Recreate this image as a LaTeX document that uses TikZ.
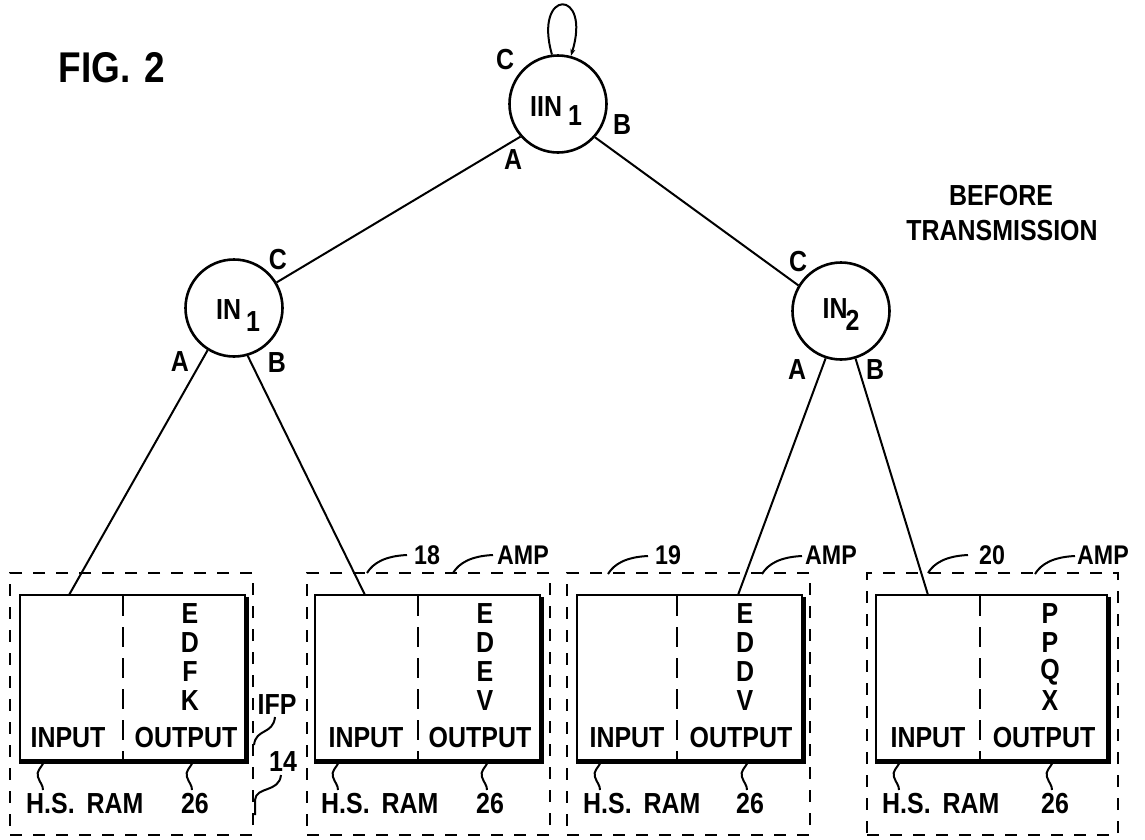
\documentclass[tikz,border=0pt]{standalone}
\usepackage{fontspec}
\setmainfont[FakeStretch=0.86]{Liberation Sans}
\usetikzlibrary{arrows.meta}
\begin{document}
\begin{tikzpicture}[x=1pt,y=-1pt,
  txt/.style={font=\fontsize{29}{29}\selectfont\bfseries, inner sep=0pt},
  smalltxt/.style={font=\fontsize{27}{27}\selectfont\bfseries, inner sep=0pt},
  titletxt/.style={font=\fontsize{43}{43}\selectfont\bfseries, inner sep=0pt},
  circ/.style={circle, draw, line width=2.6pt, minimum size=97pt, inner sep=0pt},
  conn/.style={line width=2pt},
  outerbox/.style={draw, line width=2.8pt, dash pattern=on 12pt off 11pt, minimum height=262pt, inner sep=0pt},
  rambox/.style={draw, line width=2.2pt, minimum height=165pt, inner sep=0pt},
  thickedge/.style={line width=5pt},
  divider/.style={line width=2.2pt, dash pattern=on 20pt off 11pt},
  lead/.style={line width=2pt},
  ldr/.pic={\draw[lead] (0,0) .. controls (6,-10) and (18,-17) .. (40,-18);},
  squig/.pic={\draw[lead] (0,0) .. controls (-3,6) and (-8,9) .. (-6,15) .. controls (-4,21) and (-1,23) .. (-1,28);}
]
\useasboundingbox (0,0) rectangle (1145,839);

% titles
\node[titletxt] (fig) at (112,68) {FIG.\hspace{14pt}2};
\node[txt] (bef) at (1001,196) {BEFORE};
\node[txt] (trans) at (1002,231) {TRANSMISSION};

% circles
\node[circ] (top) at (558,104) {};
\node[txt] (toplbl) at (556,111) {IIN\hspace{6pt}\raisebox{-9pt}{1}};
\node[circ] (in1) at (234,308) {};
\node[txt] (in1lbl) at (238,316) {IN\hspace{5pt}\raisebox{-12pt}{1}};
\node[circ] (in2) at (841,311) {};
\node[txt] (in2lbl) at (841,315) {IN\kern-2pt\raisebox{-12pt}{2}};

% port labels
\node[txt] (tC) at (505,60) {C};
\node[txt] (tB) at (622,125) {B};
\node[txt] (tA) at (513,160) {A};
\node[txt] (i1C) at (278,260) {C};
\node[txt] (i1A) at (180,362) {A};
\node[txt] (i1B) at (277,363) {B};
\node[txt] (i2C) at (798,262) {C};
\node[txt] (i2A) at (797,370) {A};
\node[txt] (i2B) at (875,370) {B};

% self loop
\draw[conn, -{Stealth[length=7pt,width=5pt]}] (top.97) .. controls (533,-12) and (592,-12) .. (top.75);

% outer dashed boxes
\node[outerbox, minimum width=243pt] (d1) at (131.5,704) {};
\node[outerbox, minimum width=243pt] (d2) at (428.5,704) {};
\node[outerbox, minimum width=243pt] (d3) at (688.5,704) {};
\node[outerbox, minimum width=251pt] (d4) at (992.5,704) {};

% RAM boxes
\node[rambox, minimum width=225pt] (s1) at (132.5,677.5) {};
\node[rambox, minimum width=225pt] (s2) at (427.5,677.5) {};
\node[rambox, minimum width=225pt] (s3) at (689.5,677.5) {};
\node[rambox, minimum width=231pt] (s4) at (991.5,677.5) {};
\foreach \s in {s1,s2,s3,s4}{
  \draw[thickedge] ([yshift=-3pt]\s.north east) -- (\s.south east) -- (\s.south west);
}
\draw[divider] (123,596) -- (123,759);
\draw[divider] (418,596) -- (418,759);
\draw[divider] (677,596) -- (677,759);
\draw[divider] (980,596) -- (980,759);

% entry points
\coordinate (p1) at (69,595);
\coordinate (p2) at (365,595);
\coordinate (p3) at (738,595);
\coordinate (p4) at (928,595);

% connectors
\draw[conn] (top.221) -- (in1.31);
\draw[conn] (top.318) -- (in2.149);
\draw[conn] (in1.238) -- (p1);
\draw[conn] (in1.286) -- (p2);
\draw[conn] (in2.252) -- (p3);
\draw[conn] (in2.287) -- (p4);

% box texts
\node[txt] (in-a) at (68,738) {INPUT};
\node[txt] (out-a) at (186,738) {OUTPUT};
\node[txt] (in-b) at (366,738) {INPUT};
\node[txt] (out-b) at (480,738) {OUTPUT};
\node[txt] (in-c) at (627,738) {INPUT};
\node[txt] (out-c) at (741,738) {OUTPUT};
\node[txt] (in-d) at (928,738) {INPUT};
\node[txt] (out-d) at (1044,738) {OUTPUT};

\foreach \x/\a/\b/\c/\d in {190/E/D/F/K, 485/E/D/E/V, 745/E/D/D/V, 1050/P/P/Q/X}{
  \node[txt] at (\x,614) {\a};
  \node[txt] at (\x,643) {\b};
  \node[txt] at (\x,672) {\c};
  \node[txt] at (\x,701) {\d};
}

% RAM labels
\foreach \l/\x in {20/190, 315/485, 577/745, 876/1050}{
  \node[txt, anchor=west] at (\l+6,804) {H.S.\hspace{12pt}RAM};
  \node[txt] at (\x+5,804) {26};
  \pic at (\l+24,762) {squig};
  \pic at (\x+3,762) {squig};
}

% IFP and 14
\node[txt] (ifp) at (277,705) {IFP};
\node[txt] (n14) at (283,762) {14};
\draw[lead] (275,717) .. controls (273,735) and (256,728) .. (254,745);
\draw[lead] (281,775) .. controls (279,793) and (256,786) .. (255,800) -- (255,815);

% AMP / reference numbers
\node[smalltxt] (n18) at (427,555) {18};
\node[smalltxt] (amp2) at (523,555) {AMP};
\node[smalltxt] (n19) at (668,555) {19};
\node[smalltxt] (amp3) at (831,555) {AMP};
\node[smalltxt] (n20) at (992,555) {20};
\node[smalltxt] (amp4) at (1103,555) {AMP};
\pic at (367,573) {ldr};
\pic at (453,573) {ldr};
\pic at (608,574) {ldr};
\pic at (762,574) {ldr};
\pic at (928,573) {ldr};
\pic at (1035,574) {ldr};
\end{tikzpicture}
\end{document}
